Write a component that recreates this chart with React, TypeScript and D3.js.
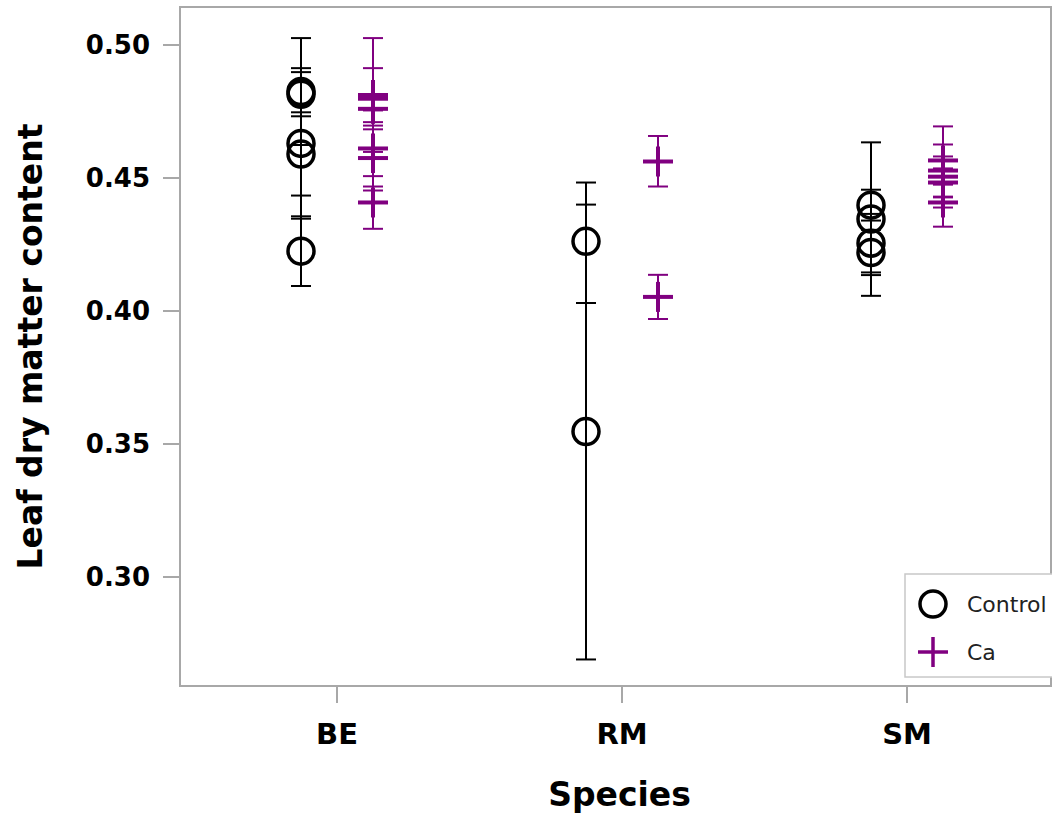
import * as d3 from 'd3';

const species = ['BE', 'RM', 'SM'];
const groups = ['Control', 'Ca'];
const yTicks = [0.3, 0.35, 0.4, 0.45, 0.5];

// mean with lower / upper error limits
const controlPoints = [
  { species: 'BE', mean: 0.4825, lower: 0.4624, upper: 0.5026 },
  { species: 'BE', mean: 0.4815, lower: 0.4732, upper: 0.4898 },
  { species: 'BE', mean: 0.463, lower: 0.4347, upper: 0.4913 },
  { species: 'BE', mean: 0.459, lower: 0.4434, upper: 0.4747 },
  { species: 'BE', mean: 0.4225, lower: 0.4094, upper: 0.4356 },
  { species: 'RM', mean: 0.4262, lower: 0.403, upper: 0.4483 },
  { species: 'RM', mean: 0.3547, lower: 0.269, upper: 0.44 },
  { species: 'SM', mean: 0.4398, lower: 0.434, upper: 0.4456 },
  { species: 'SM', mean: 0.4346, lower: 0.4057, upper: 0.4634 },
  { species: 'SM', mean: 0.4255, lower: 0.4145, upper: 0.4365 },
  { species: 'SM', mean: 0.422, lower: 0.4135, upper: 0.4305 },
];

const caPoints = [
  { species: 'BE', mean: 0.4812, lower: 0.4598, upper: 0.5026 },
  { species: 'BE', mean: 0.4798, lower: 0.4683, upper: 0.4913 },
  { species: 'BE', mean: 0.476, lower: 0.471, upper: 0.481 },
  { species: 'BE', mean: 0.4611, lower: 0.4468, upper: 0.4754 },
  { species: 'BE', mean: 0.4575, lower: 0.4453, upper: 0.4697 },
  { species: 'BE', mean: 0.4408, lower: 0.4309, upper: 0.4507 },
  { species: 'RM', mean: 0.4562, lower: 0.4468, upper: 0.4658 },
  { species: 'RM', mean: 0.4053, lower: 0.397, upper: 0.4136 },
  { species: 'SM', mean: 0.4566, lower: 0.4506, upper: 0.4626 },
  { species: 'SM', mean: 0.4528, lower: 0.4475, upper: 0.4581 },
  { species: 'SM', mean: 0.4505, lower: 0.4317, upper: 0.4694 },
  { species: 'SM', mean: 0.4483, lower: 0.443, upper: 0.4536 },
  { species: 'SM', mean: 0.4408, lower: 0.4389, upper: 0.4427 },
];

const W = 1052;
const H = 818;
const frame = { left: 180, top: 7, right: 1051, bottom: 686 };
const font = '"DejaVu Sans", Verdana, sans-serif';
const purple = '#800080';
const axisGray = '#a8a8a8';

export default function App() {
  const x = d3.scalePoint<string>().domain(species).range([337, 907]);
  const dx = d3.scalePoint<string>().domain(groups).range([-36, 36]);
  const y = d3.scaleLinear().domain([0.3, 0.5]).range([577, 45]);
  const fmt = d3.format('.2f');
  const cap = 10;

  const series = [
    { name: 'Control', points: controlPoints, color: '#000' },
    { name: 'Ca', points: caPoints, color: purple },
  ];

  return (
    <svg width={W} height={H} style={{ position: 'absolute', left: 0, top: 0, background: '#fff' }} fontFamily={font}>
      <rect x={frame.left} y={frame.top} width={frame.right - frame.left} height={frame.bottom - frame.top}
        fill="none" stroke={axisGray} strokeWidth={2} />

      {/* y axis */}
      {yTicks.map(t => (
        <g key={t}>
          <line x1={frame.left - 17} x2={frame.left} y1={y(t)} y2={y(t)} stroke={axisGray} strokeWidth={2} />
          <text x={150} y={y(t)} dy="0.36em" textAnchor="end" fontSize={26} fontWeight="bold" fill="#000">{fmt(t)}</text>
        </g>
      ))}
      <text transform={`translate(42,${(frame.top + frame.bottom) / 2}) rotate(-90)`} textAnchor="middle"
        fontSize={33} fontWeight="bold" fill="#000">Leaf dry matter content</text>

      {/* x axis */}
      {species.map(s => (
        <g key={s}>
          <line x1={x(s)} x2={x(s)} y1={frame.bottom} y2={frame.bottom + 17} stroke={axisGray} strokeWidth={2} />
          <text x={x(s)} y={744} textAnchor="middle" fontSize={29} fontWeight="bold" fill="#000">{s}</text>
        </g>
      ))}
      <text x={(frame.left + frame.right) / 2 + 4} y={806} textAnchor="middle" fontSize={33} fontWeight="bold" fill="#000">Species</text>

      {/* error bars and markers */}
      {series.map(sr => (
        <g key={sr.name}>
          {sr.points.map((p, i) => {
            const cx = (x(p.species) ?? 0) + (dx(sr.name) ?? 0);
            return (
              <g key={i} stroke={sr.color} strokeWidth={2}>
                <line x1={cx} x2={cx} y1={y(p.lower)} y2={y(p.upper)} />
                <line x1={cx - cap} x2={cx + cap} y1={y(p.lower)} y2={y(p.lower)} />
                <line x1={cx - cap} x2={cx + cap} y1={y(p.upper)} y2={y(p.upper)} />
              </g>
            );
          })}
          {sr.points.map((p, i) => {
            const cx = (x(p.species) ?? 0) + (dx(sr.name) ?? 0);
            const cy = y(p.mean);
            return sr.name === 'Control' ? (
              <circle key={'m' + i} cx={cx} cy={cy} r={13} fill="none" stroke={sr.color} strokeWidth={3.5} />
            ) : (
              <g key={'m' + i} stroke={sr.color} strokeWidth={4}>
                <line x1={cx - 15} x2={cx + 15} y1={cy} y2={cy} />
                <line x1={cx} x2={cx} y1={cy - 15} y2={cy + 15} />
              </g>
            );
          })}
        </g>
      ))}

      {/* legend */}
      <g>
        <rect x={905} y={574} width={160} height={103} fill="#fff" stroke="#c8c8c8" strokeWidth={1.5} />
        <circle cx={933} cy={604} r={13} fill="none" stroke="#000" strokeWidth={3.5} />
        <text x={967} y={612} fontSize={22} fill="#222">{groups[0]}</text>
        <g stroke={purple} strokeWidth={3.5}>
          <line x1={918} x2={948} y1={652} y2={652} />
          <line x1={933} x2={933} y1={637} y2={667} />
        </g>
        <text x={967} y={660} fontSize={22} fill="#222">{groups[1]}</text>
      </g>
    </svg>
  );
}
